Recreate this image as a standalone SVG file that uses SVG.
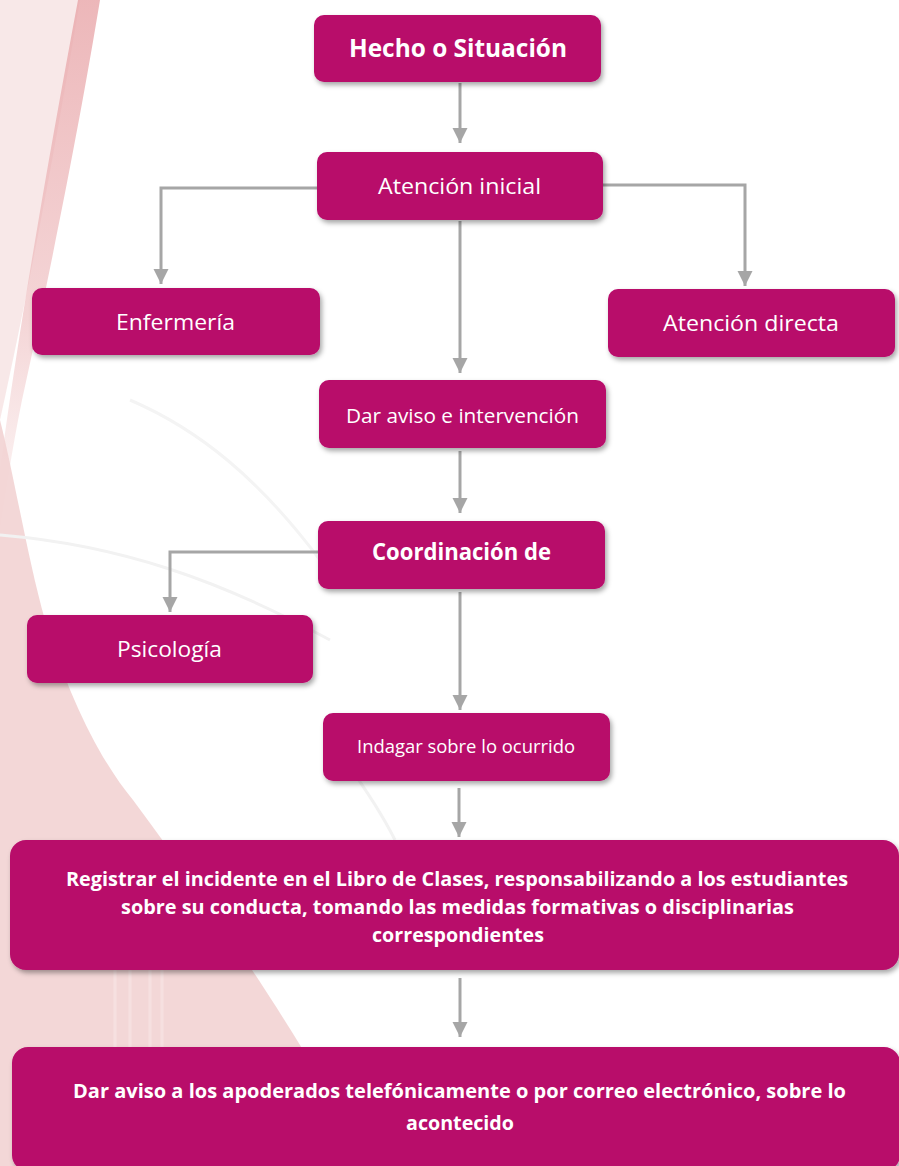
<svg xmlns="http://www.w3.org/2000/svg" width="899" height="1166" viewBox="0 0 899 1166">
<defs>
<style>
.box{fill:#B8096A;filter:url(#sh);}
.t{fill:#FFFFFF;font-family:"Open Sans","Noto Sans","Liberation Sans",sans-serif;}
.b{font-weight:bold;}
.c{fill:none;stroke:#A6A6A6;stroke-width:3;marker-end:url(#ah);}
</style>
<filter id="sh" x="-10%" y="-20%" width="120%" height="150%">
<feDropShadow dx="2" dy="3" stdDeviation="2.5" flood-color="#000" flood-opacity="0.35"/>
</filter>
<linearGradient id="fade" x1="0" y1="0" x2="0" y2="1">
<stop offset="0" stop-color="#E8A5A8" stop-opacity="0.8"/>
<stop offset="0.6" stop-color="#EDB9BB" stop-opacity="0.6"/>
<stop offset="1" stop-color="#F2D0D0" stop-opacity="0.2"/>
</linearGradient>
<marker id="ah" markerUnits="userSpaceOnUse" markerWidth="16" markerHeight="16" refX="15" refY="8" orient="auto">
<path d="M0,0.5 L15,8 L0,15.5 z" fill="#A6A6A6"/>
</marker>
</defs>
<rect width="899" height="1166" fill="#FFFFFF"/>
<g id="background">
<path d="M0,0 L80,0 C60,120 35,260 0,420 Z" fill="#F6E2E2" opacity="0.8"/>
<path d="M78,0 L100,0 C82,110 55,250 22,400 C12,450 6,490 0,530 L0,470 C20,320 50,150 78,0 Z" fill="url(#fade)"/>
<path d="M0,420 C15,480 28,560 45,620 C70,700 100,760 133,800 C200,890 260,980 300,1045 C330,1100 345,1140 355,1166 L0,1166 Z" fill="#F2D3D3" opacity="0.9"/>
<path d="M115,960 L115,1050 M130,960 L130,1050 M150,960 L150,1050 M162,960 L162,1050" stroke="#F7E3E3" stroke-width="3" opacity="0.8"/>
<path d="M0,535 C120,545 220,580 330,640" fill="none" stroke="#F2F2F2" stroke-width="3"/>
<path d="M130,400 C200,430 260,480 320,560" fill="none" stroke="#F4F4F4" stroke-width="3"/>
<path d="M330,740 C360,780 380,810 395,840" fill="none" stroke="#F2F2F2" stroke-width="3"/>
</g>
<g id="connectors">
<path class="c" d="M460,83 L460,143"/>
<path class="c" d="M317,188 L161,188 L161,284"/>
<path class="c" d="M603,185 L745,185 L745,286"/>
<path class="c" d="M460,221 L460,373"/>
<path class="c" d="M460,451 L460,513"/>
<path class="c" d="M318,552 L170,552 L170,612"/>
<path class="c" d="M460,592 L460,710"/>
<path class="c" d="M459,788 L459,837"/>
<path class="c" d="M460,978 L460,1037"/>
</g>
<g id="n-hecho">
<rect class="box" x="314" y="15" width="287" height="67" rx="10"/>
<text class="t b" x="349" y="57" font-size="25" textLength="218" lengthAdjust="spacingAndGlyphs">Hecho o Situación</text>
</g>
<g id="n-atencion-inicial">
<rect class="box" x="317" y="152" width="286" height="68" rx="10"/>
<text class="t" x="378" y="194" font-size="22" textLength="163" lengthAdjust="spacingAndGlyphs">Atención inicial</text>
</g>
<g id="n-enfermeria">
<rect class="box" x="32" y="288" width="288" height="67" rx="10"/>
<text class="t" x="116" y="330" font-size="22" textLength="119" lengthAdjust="spacingAndGlyphs">Enfermería</text>
</g>
<g id="n-atencion-directa">
<rect class="box" x="608" y="289" width="287" height="68" rx="10"/>
<text class="t" x="663" y="331" font-size="22" textLength="176" lengthAdjust="spacingAndGlyphs">Atención directa</text>
</g>
<g id="n-dar-aviso-intervencion">
<rect class="box" x="319" y="380" width="287" height="68" rx="10"/>
<text class="t" x="346" y="423" font-size="20" textLength="233" lengthAdjust="spacingAndGlyphs">Dar aviso e intervención</text>
</g>
<g id="n-coordinacion">
<rect class="box" x="318" y="521" width="287" height="68" rx="10"/>
<text class="t b" x="372" y="560" font-size="23" textLength="179" lengthAdjust="spacingAndGlyphs">Coordinación de</text>
</g>
<g id="n-psicologia">
<rect class="box" x="27" y="615" width="286" height="68" rx="10"/>
<text class="t" x="117" y="657" font-size="22" textLength="105" lengthAdjust="spacingAndGlyphs">Psicología</text>
</g>
<g id="n-indagar">
<rect class="box" x="323" y="713" width="287" height="68" rx="10"/>
<text class="t" x="357" y="753" font-size="18" textLength="218" lengthAdjust="spacingAndGlyphs">Indagar sobre lo ocurrido</text>
</g>
<g id="n-registrar">
<rect class="box" x="10" y="840" width="889" height="130" rx="16"/>
<text class="t b" x="66" y="886" font-size="19" textLength="782" lengthAdjust="spacingAndGlyphs">Registrar el incidente en el Libro de Clases, responsabilizando a los estudiantes</text>
<text class="t b" x="121" y="914" font-size="19" textLength="673" lengthAdjust="spacingAndGlyphs">sobre su conducta, tomando las medidas formativas o disciplinarias</text>
<text class="t b" x="372" y="942" font-size="19" textLength="172" lengthAdjust="spacingAndGlyphs">correspondientes</text>
</g>
<g id="n-dar-aviso-apoderados">
<rect class="box" x="12" y="1047" width="888" height="124" rx="16"/>
<text class="t b" x="73" y="1098" font-size="19" textLength="773" lengthAdjust="spacingAndGlyphs">Dar aviso a los apoderados telefónicamente o por correo electrónico, sobre lo</text>
<text class="t b" x="406" y="1130" font-size="19" textLength="108" lengthAdjust="spacingAndGlyphs">acontecido</text>
</g>
</svg>
